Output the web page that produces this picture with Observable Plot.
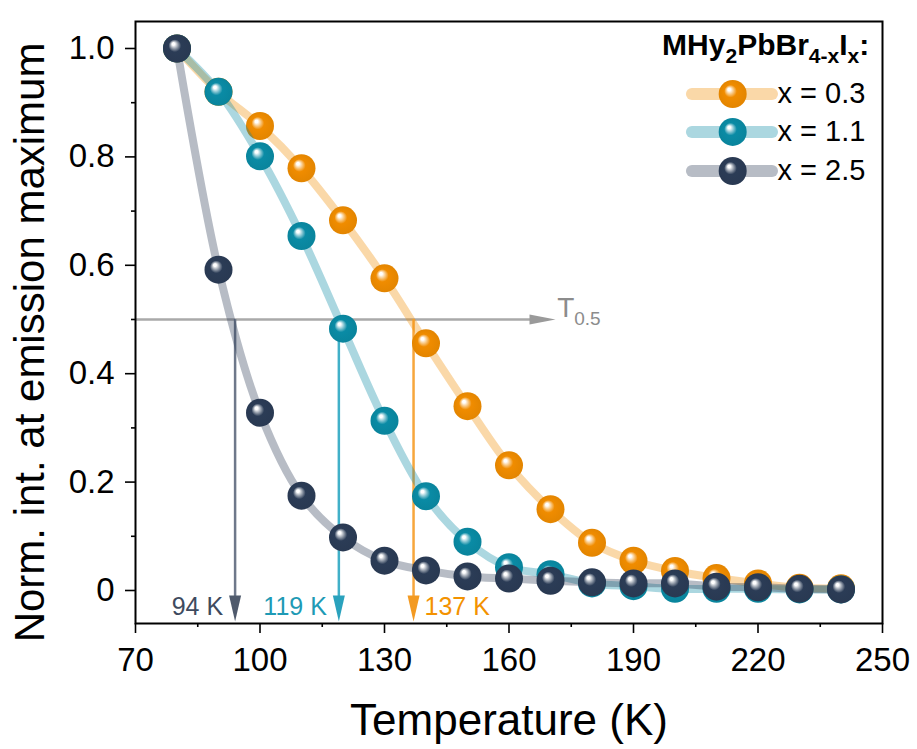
<!DOCTYPE html>
<html><head><meta charset="utf-8">
<script src="https://cdn.jsdelivr.net/npm/d3@7"></script>
<script src="https://cdn.jsdelivr.net/npm/@observablehq/plot@0.6"></script>
<style>
body{margin:0;background:#fff;}
svg{font-family:"Liberation Sans", Arial, sans-serif;}
</style>
</head><body><div id="chart"></div>
<script>
// ---------- data ----------
const temperatures = [80,90,100,110,120,130,140,150,160,170,180,190,200,210,220,230,240];
const intX03 = [1.0,0.92,0.857,0.779,0.683,0.576,0.456,0.340,0.231,0.150,0.088,0.055,0.036,0.023,0.013,0.005,0.004];
const intX11 = [1.0,0.920,0.801,0.654,0.483,0.313,0.174,0.090,0.043,0.030,0.013,0.008,0.003,0.003,0.003,0.002,0.002];
const intX25 = [1.0,0.592,0.328,0.175,0.098,0.055,0.037,0.026,0.022,0.018,0.015,0.013,0.013,0.007,0.006,0.003,0.002];
const seriesNames = ["x = 0.3","x = 1.1","x = 2.5"];
const seriesValues = [intX03, intX11, intX25];
const baseColors = ["#F08C00","#0A8BA5","#2B3C56"];
const legendTitle = "MHy2PbBr4-xIx:";
const t05Values = [94,119,137];
const t05Labels = ["94 K","119 K","137 K"];
const t05LabelColors = ["#3E4A5E","#1E9AB5","#F39200"];
const t05LineColors = ["#6E788A","#41B0C8","#F7A63C"];
const t05HeadColors = ["#4F5A6C","#2AA2BD","#F39A22"];
const t05Text = "T0.5";
const xTicks = [70,100,130,160,190,220,250];
const xMinor = [85,115,145,175,205,235];
const yTicks = [0,0.2,0.4,0.6,0.8,1.0];
const yTickLabels = ["0","0.2","0.4","0.6","0.8","1.0"];
const yMinor = [0.1,0.3,0.5,0.7,0.9];
const xLabel = "Temperature (K)";
const yLabel = "Norm. int. at emission maximum";

// legend / label layout (data coordinates)
const legendRowsY = [0.916, 0.846, 0.774];
const legendLineX = [204.2, 223.5];
const legendDotX = 213.9;
const legendTextX = 224.7;
const xLabelPos = [160, -0.24];
const yLabelPos = [44.7, 0.4576];

const rows = seriesValues.map(vals => temperatures.map((t, i) => ({t, v: vals[i]})));

const tri = {draw(ctx, l, r) { ctx.moveTo(0, -l); ctx.lineTo(-r, 0); ctx.lineTo(r, 0); ctx.closePath(); }};

const marks = [];
// T0.5 horizontal guide
marks.push(Plot.ruleY([0.5], {x1: 70, x2: 167, stroke: "#a9a9a9", strokeWidth: 2.5}));
marks.push(Plot.vector([0.5], {x: 171.2, y: d => d, rotate: 90, length: 26, anchor: "end", shape: tri, r: 5, fill: "#9a9a9a", stroke: "none"}));
marks.push(Plot.text([t05Text], {x: 171.6, y: 0.521, text: d => d, textAnchor: "start", fontSize: 28, fill: "#8c8c8c"}));
// vertical T0.5 arrows
t05Values.forEach((v, i) => {
  marks.push(Plot.ruleX([v], {x: d => d, y1: 0.5, y2: -0.03, stroke: t05LineColors[i], strokeWidth: 2.5}));
  marks.push(Plot.vector([v], {x: d => d, y: -0.057, rotate: 180, length: 26, anchor: "end", shape: tri, r: 6, fill: t05HeadColors[i], stroke: "none"}));
  marks.push(Plot.text([t05Labels[i]], {x: v, y: -0.03, text: d => d, textAnchor: i === 2 ? "start" : "end", dx: i === 2 ? 11 : -12, fontSize: 25, fill: t05LabelColors[i]}));
});
// series
rows.forEach((r, i) => {
  marks.push(Plot.line(r, {x: "t", y: "v", curve: "catmull-rom", stroke: baseColors[i], strokeOpacity: 0.34, strokeWidth: 8}));
  marks.push(Plot.dot(r, {x: "t", y: "v", r: 14, fill: `url(#ball${i})`, stroke: "none"}));
});
// legend
marks.push(Plot.text([legendTitle], {x: 246.8, y: 1.006, text: d => d, textAnchor: "end", fontSize: 30, fontWeight: "bold", fill: "black"}));
seriesNames.forEach((name, i) => {
  marks.push(Plot.ruleY([legendRowsY[i]], {y: d => d, x1: legendLineX[0], x2: legendLineX[1], stroke: baseColors[i], strokeOpacity: 0.34, strokeWidth: 12, strokeLinecap: "round"}));
  marks.push(Plot.dot([legendRowsY[i]], {x: legendDotX, y: d => d, r: 14, fill: `url(#ball${i})`, stroke: "none"}));
  marks.push(Plot.text([name], {x: legendTextX, y: legendRowsY[i], text: d => d, textAnchor: "start", fontSize: 29, fill: "black"}));
});
// axes
marks.push(Plot.axisX(xMinor, {tickSize: 4, tickFormat: () => "", label: null, strokeWidth: 1.6}));
marks.push(Plot.axisY(yMinor, {tickSize: 4, tickFormat: () => "", label: null, strokeWidth: 1.6}));
marks.push(Plot.axisX(xTicks, {tickSize: 10, tickPadding: 14, fontSize: 33, label: null, strokeWidth: 1.6}));
marks.push(Plot.axisY(yTicks, {tickSize: 10, tickPadding: 11, fontSize: 33, label: null, strokeWidth: 1.6,
  tickFormat: d => yTickLabels[yTicks.indexOf(d)]}));
marks.push(Plot.frame({stroke: "black", strokeWidth: 2}));
marks.push(Plot.text([xLabel], {x: xLabelPos[0], y: xLabelPos[1], text: d => d, fontSize: 44, fill: "black"}));
marks.push(Plot.text([yLabel], {x: yLabelPos[0], y: yLabelPos[1], rotate: -90, text: d => d, fontSize: 42, fill: "black"}));

const svg = Plot.plot({
  width: 917, height: 749,
  marginLeft: 135, marginRight: 35, marginTop: 21, marginBottom: 126,
  x: {domain: [70, 250]},
  y: {domain: [-0.0609, 1.0498]},
  style: {fontFamily: "'Liberation Sans', Arial, sans-serif", color: "black", background: "white", overflow: "visible"},
  marks
});

// gradients for glossy balls
const defs = d3.select(svg).insert("defs", ":first-child");
baseColors.forEach((c, i) => {
  const g = defs.append("radialGradient").attr("id", "ball" + i)
    .attr("cx", "50%").attr("cy", "50%").attr("r", "50%").attr("fx", "36%").attr("fy", "32%");
  const lc = d3.interpolateRgb(c, "#ffffff");
  g.append("stop").attr("offset", "0%").attr("stop-color", "#ffffff");
  g.append("stop").attr("offset", "10%").attr("stop-color", "#ffffff");
  g.append("stop").attr("offset", "27%").attr("stop-color", lc(0.5));
  g.append("stop").attr("offset", "45%").attr("stop-color", c);
  g.append("stop").attr("offset", "100%").attr("stop-color", d3.color(c).darker(0.15).formatHex());
});

// rich text (subscripts)
function richText(content, parts, subSize, shift) {
  d3.select(svg).selectAll("text").filter(function() { return this.textContent === content; }).each(function() {
    const t = d3.select(this);
    t.text(null);
    let prevSub = false;
    parts.forEach(([s, sub]) => {
      const sp = t.append("tspan").text(s);
      if (sub) { sp.attr("font-size", subSize); if (!prevSub) sp.attr("dy", shift); }
      else if (prevSub) sp.attr("dy", -shift);
      prevSub = sub;
    });
  });
}
richText(legendTitle, [["MHy", false], ["2", true], ["PbBr", false], ["4-x", true], ["I", false], ["x", true], [":", false]], 21, 8);
richText(t05Text, [["T", false], ["0.5", true]], 19, 8);

document.getElementById("chart").appendChild(svg);
</script>
</body></html>
